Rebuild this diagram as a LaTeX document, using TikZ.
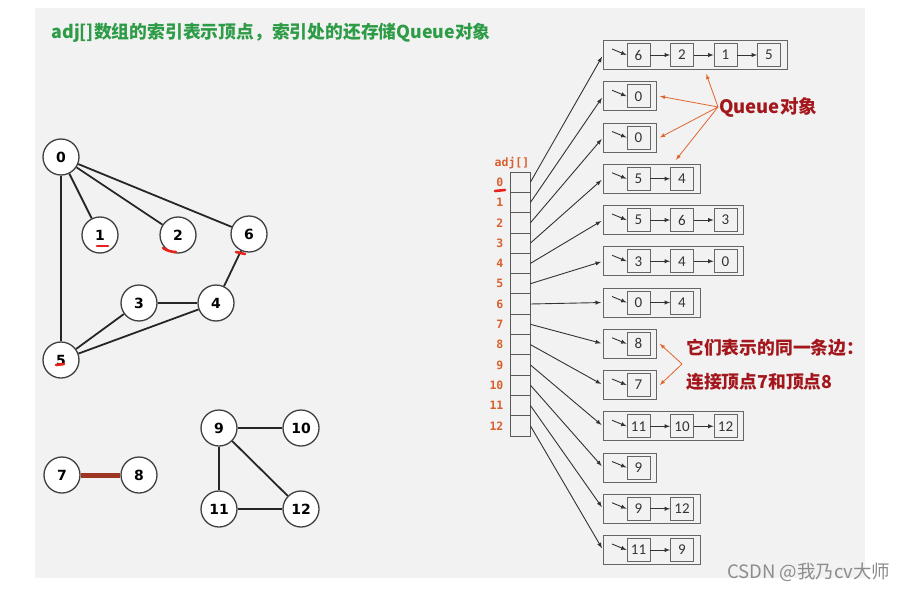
\documentclass[tikz,border=0pt]{standalone}
\usepackage{fontspec}
\setmainfont{DejaVu Sans}
\newfontfamily\cjk{Noto Sans CJK SC}
\newfontfamily\cellfont{Carlito}
\newfontfamily\idxfont{DejaVu Sans Mono}
\usepackage{tikz}
\usetikzlibrary{arrows,calc,positioning}
\definecolor{panelgray}{HTML}{F2F2F2}
\definecolor{titlegreen}{HTML}{2E9B47}
\definecolor{noteRed}{HTML}{A3171C}
\definecolor{noteOrange}{HTML}{E0662E}
\definecolor{idxOrange}{HTML}{D8602E}
\definecolor{edgeBrown}{HTML}{9C3522}
\definecolor{penRed}{HTML}{E8221B}

\begin{document}
\begin{tikzpicture}[x=1pt,y=-1pt,>=latex,
	vertex/.style={circle,draw=black!75,fill=white,line width=1.3pt,minimum size=36pt,inner sep=0pt,font=\fontsize{14}{14}\selectfont\bfseries},
	gedge/.style={line width=1.8pt,black!85},
	cell/.style={rectangle,draw=black!65,line width=0.8pt,minimum width=20pt,minimum height=20.3pt,inner sep=0pt},
	idx/.style={text=idxOrange,font=\idxfont\bfseries\fontsize{11.5}{11.5}\selectfont,inner sep=0pt},
	qbox/.style={rectangle,draw=black!60,line width=0.8pt,minimum height=29pt,inner sep=0pt,anchor=west},
	qitem/.style={rectangle,draw=black!60,line width=0.8pt,minimum size=23pt,inner sep=0pt,font=\cellfont\fontsize{15}{15}\selectfont,text=black!80},
	link/.style={->,line width=0.9pt,black!80},
	note/.style={->,line width=0.8pt,noteOrange},
	pen/.style={line width=2.6pt,penRed,line cap=round}]
			\useasboundingbox (0,0) rectangle (909,591);
			\fill[panelgray] (35,8) rectangle (865,578);
			\node[anchor=west,text=titlegreen,font=\cjk\bfseries\fontsize{17.8}{17.8}\selectfont] (title) at (48,33) {adj[]数组的索引表示顶点，索引处的还存储Queue对象};
			% the graph
			\node[vertex] (v0) at (61,157) {0};
			\node[vertex] (v1) at (100,235) {1};
			\node[vertex] (v2) at (178,235) {2};
			\node[vertex] (v6) at (249,234) {6};
			\node[vertex] (v3) at (139,303) {3};
			\node[vertex] (v4) at (216,303) {4};
			\node[vertex] (v5) at (61,360) {5};
			\node[vertex] (v7) at (62,475) {7};
			\node[vertex] (v8) at (139,475) {8};
			\node[vertex] (v9) at (219,428) {9};
			\node[vertex] (v10) at (301,428) {10};
			\node[vertex] (v11) at (219,509) {11};
			\node[vertex] (v12) at (301,509) {12};
			\foreach \a/\b in {0/1,0/2,0/6,0/5,3/4,3/5,4/5,4/6,9/10,9/11,9/12,11/12}
			  \draw[gedge] (v\a) -- (v\b);
			\draw[line width=5pt,edgeBrown] (v7) -- (v8);
			% adj[] array
			\node[idx,anchor=south] (adjname) at (512,169) {adj[]};
			\foreach \i in {0,...,12} {
			  \node[cell] (a\i) at (520,182.2+20.3*\i) {};
			  \node[idx,anchor=east] (l\i) at ([xshift=-6pt]a\i.west) {\i};
			}
			% one Queue per vertex
			\foreach \i/\n/\vals in {0/4/{6,2,1,5},1/1/{0},2/1/{0},3/2/{5,4},4/3/{5,6,3},5/3/{3,4,0},6/2/{0,4},7/1/{8},8/1/{7},9/3/{11,10,12},10/1/{9},11/2/{9,12},12/2/{11,9}} {
			  \pgfmathsetmacro\qy{55+41.25*\i}
			  \pgfmathsetmacro\qw{53+43.5*(\n-1)}
			  \node[qbox,minimum width=\qw pt] (q\i) at (603,\qy) {};
			  \foreach \v [count=\j, remember=\j as \p (initially 0)] in \vals {
			    \node[qitem] (q\i-\j) at (638.5+43.5*\j-43.5,\qy) {\v};
			    \ifnum\j>1 \draw[link] (q\i-\p) -- (q\i-\j); \fi
			  }
			  \coordinate (h\i) at (612,\qy-6);
			  \draw[link] (h\i) -- (q\i-1.west);
			  \draw[link,shorten >=2pt] (a\i.east) -- (q\i.west);
			}
			% notes
			\node[anchor=west,text=noteRed,font=\cjk\bfseries\fontsize{18.5}{18.5}\selectfont,inner sep=1pt] (qlabel) at (718,107) {Queue对象};
			\draw[note] (qlabel.west) -- ([yshift=-4pt]$(q0.south)!0.12!(q0.south east)$);
			\draw[note] (qlabel.west) -- ([xshift=3pt]q1.east);
			\draw[note] (qlabel.west) -- ([xshift=3pt]q2.east);
			\draw[note] (qlabel.west) -- ([yshift=4pt]$(q3.north)!0.5!(q3.north east)$);
			\node[anchor=west,text=noteRed,font=\cjk\bfseries\fontsize{17.8}{17.8}\selectfont,inner sep=0pt] (edgenote1) at (686,348) {它们表示的同一条边：};
			\node[anchor=west,text=noteRed,font=\cjk\bfseries\fontsize{17.8}{17.8}\selectfont,inner sep=0pt] (edgenote2) at (686,382) {连接顶点7和顶点8};
			\coordinate (fork) at (682,364);
			\draw[note] (fork) -- ([xshift=3pt]q7.east);
			\draw[note] (fork) -- ([xshift=3pt]q8.east);
			% pen marks
			\draw[pen] (97,246) -- (108,246);
			\draw[pen] (163,248) to[bend right=15] (176,252);
			\draw[pen] (236,252) -- (245,254);
			\draw[pen] (56,365) -- (64,364);
			\draw[pen] (495,191) -- (505,190);
			\node[text=black!45,font=\cjk\fontsize{18.5}{18.5}\selectfont,anchor=east] (mark) at (894,572) {CSDN @我乃cv大师};
\end{tikzpicture}
\end{document}
